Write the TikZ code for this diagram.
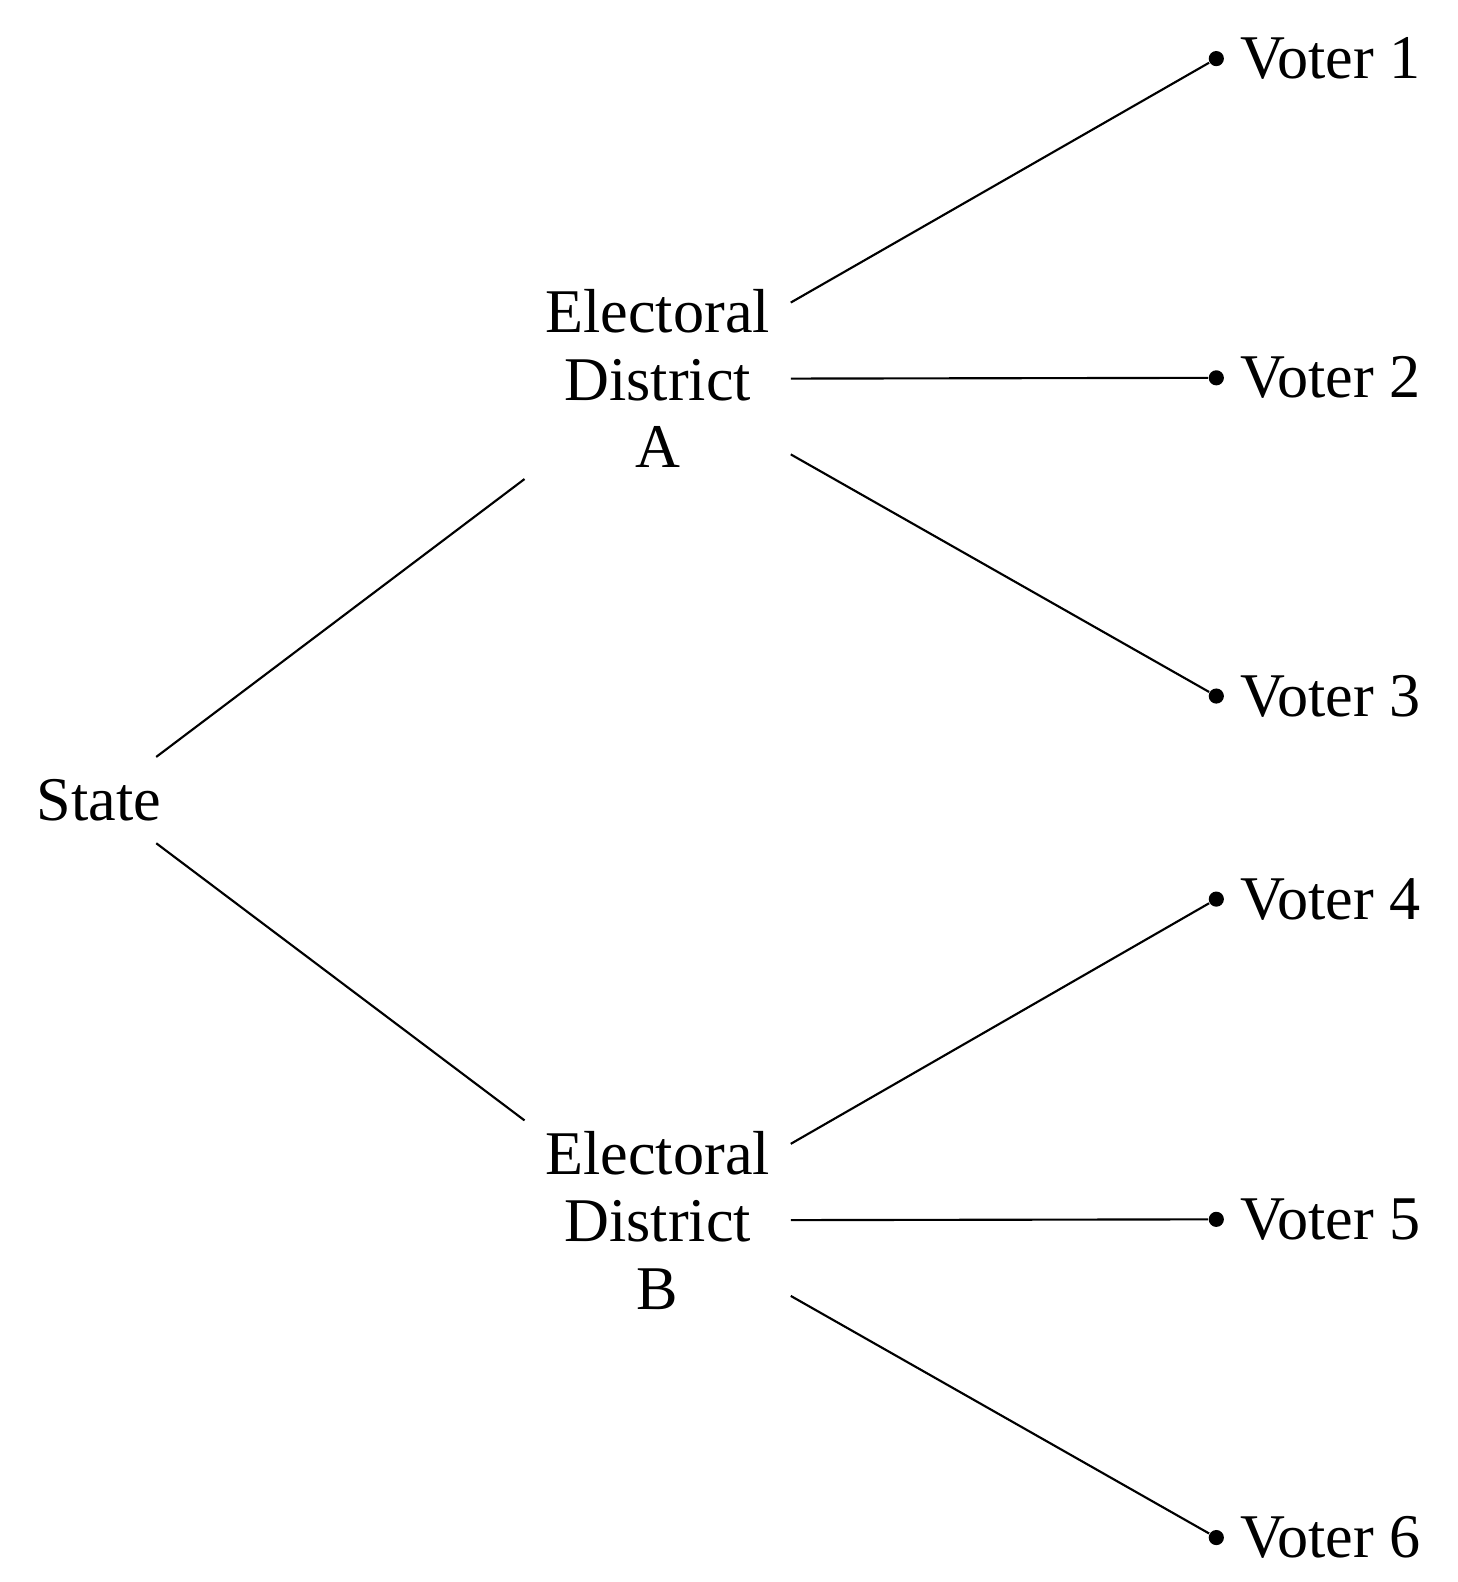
\documentclass[tikz,border=0pt]{standalone}
\usepackage{fontspec}
\setmainfont{Liberation Serif}
\begin{document}
\begin{tikzpicture}[x=0.01cm,y=-0.01cm,
  font=\fontsize{17.5}{19}\selectfont,
  statebox/.style={minimum height=0.84cm},
  dist/.style={align=center, minimum width=2.62cm, inner xsep=0pt},
  voter/.style={circle, fill, inner sep=0pt, minimum size=0.15cm},
  link/.style={line width=0.6pt}]
\useasboundingbox (0,0) rectangle (1443,1566);
\node[statebox] (state) at (98,792) {State};
\node[dist] (da) at (651,375) {Electoral\\District\\A};
\node[dist] (db) at (651,1208) {Electoral\\District\\B};
\node[voter, label={[name=l1, label distance=0.03cm]right:Voter 1}] (v1) at (1204,58) {};
\node[voter, label={[name=l2, label distance=0.03cm]right:Voter 2}] (v2) at (1204,374) {};
\node[voter, label={[name=l3, label distance=0.03cm]right:Voter 3}] (v3) at (1204,689) {};
\node[voter, label={[name=l4, label distance=0.03cm]right:Voter 4}] (v4) at (1204,890) {};
\node[voter, label={[name=l5, label distance=0.03cm]right:Voter 5}] (v5) at (1204,1207) {};
\node[voter, label={[name=l6, label distance=0.03cm]right:Voter 6}] (v6) at (1204,1522) {};
\draw[link] (state) -- (da);
\draw[link] (state) -- (db);
\draw[link] (da) -- (v1);
\draw[link] (da) -- (v2);
\draw[link] (da) -- (v3);
\draw[link] (db) -- (v4);
\draw[link] (db) -- (v5);
\draw[link] (db) -- (v6);
\end{tikzpicture}
\end{document}
